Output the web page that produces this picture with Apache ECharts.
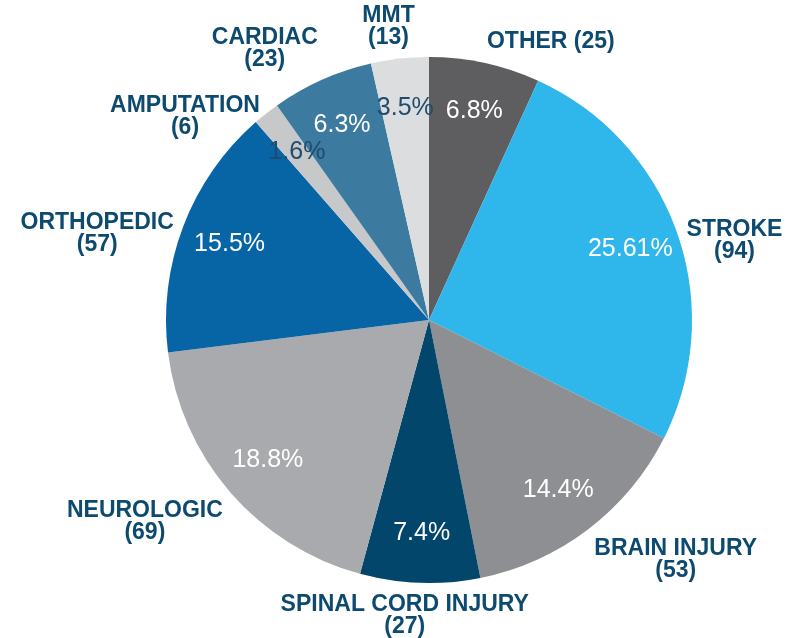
<!DOCTYPE html>
<html>
<head>
<meta charset="utf-8">
<script src="https://cdn.jsdelivr.net/npm/echarts@6/dist/echarts.min.js"></script>
<style>
  html, body { margin: 0; padding: 0; background: #fff; }
  #chart { width: 789px; height: 638px; }
</style>
</head>
<body>
<div id="chart"></div>
<script>
// data, clockwise from 12 o'clock
var categories = ['OTHER', 'STROKE', 'BRAIN INJURY', 'SPINAL CORD INJURY', 'NEUROLOGIC', 'ORTHOPEDIC', 'AMPUTATION', 'CARDIAC', 'MMT'];
var counts = [25, 94, 53, 27, 69, 57, 6, 23, 13];
var percentLabels = ['6.8%', '25.61%', '14.4%', '7.4%', '18.8%', '15.5%', '1.6%', '6.3%', '3.5%'];
var singleLine = ['OTHER'];

// styles
var sliceColors = ['#5e5e60', '#2fb6eb', '#8e8f92', '#03466b', '#a9aaae', '#0765a6', '#c7c8ca', '#3c7b9f', '#dcdddf'];
var navy = '#0d4a70';
var pctColors = ['#fff', '#fff', '#fff', '#fff', '#fff', '#fff', '#1f4b6e', '#fff', '#1f4b6e'];

var CX = 429, CY = 320, R = 263, GAP = 10;

var total = counts.reduce(function (a, b) { return a + b; }, 0);
var mids = [];
var acc = 0;
for (var i = 0; i < counts.length; i++) {
  mids.push((acc + counts[i] / 2) / total * Math.PI * 2);
  acc += counts[i];
}

var chart = echarts.init(document.getElementById('chart'));

var option = {
  animation: false,
  series: [
    {
      type: 'pie',
      center: [CX, CY],
      radius: R,
      startAngle: 90,
      clockwise: true,
      avoidLabelOverlap: false,
      silent: true,
      data: categories.map(function (name, i) {
        return { name: name, value: counts[i], itemStyle: { color: sliceColors[i] } };
      }),
      label: {
        show: true,
        position: 'outside',
        formatter: function (p) {
          var sep = singleLine.indexOf(p.name) !== -1 ? ' ' : '\n';
          return p.name + sep + '(' + p.value + ')';
        },
        color: navy,
        fontFamily: 'Liberation Sans',
        fontWeight: 'bold',
        fontSize: 23,
        lineHeight: 22,
        align: 'center'
      },
      labelLine: { show: false, length: 0, length2: 0 },
      labelLayout: function (params) {
        // sit the label box just outside the slice edge
        var m = mids[params.dataIndex];
        var dx = Math.sin(m), dy = -Math.cos(m);
        var px = CX + dx * (R + GAP), py = CY + dy * (R + GAP);
        var w = params.labelRect.width, h = params.labelRect.height;
        var xa = Math.abs(dx) > 0.2 ? (dx > 0 ? 1 : -1) : dx / 0.2 * 0.7;
        var ya = dy > 0.5 ? 1 : (dy < -0.85 ? -1 : 0.5);
        return {
          x: px + xa * w / 2,
          y: py + ya * h / 2,
          align: 'center',
          verticalAlign: 'middle'
        };
      }
    },
    {
      type: 'pie',
      center: [CX, CY],
      radius: [R * 0.6, R],
      startAngle: 90,
      clockwise: true,
      silent: true,
      data: categories.map(function (name, i) {
        return {
          name: name,
          value: counts[i],
          itemStyle: { color: 'rgba(0,0,0,0)' },
          label: { color: pctColors[i] }
        };
      }),
      label: {
        show: true,
        position: 'inside',
        formatter: function (p) { return percentLabels[p.dataIndex]; },
        fontFamily: 'Liberation Sans',
        fontSize: 25
      },
      labelLine: { show: false }
    }
  ]
};

chart.setOption(option);
</script>
</body>
</html>
